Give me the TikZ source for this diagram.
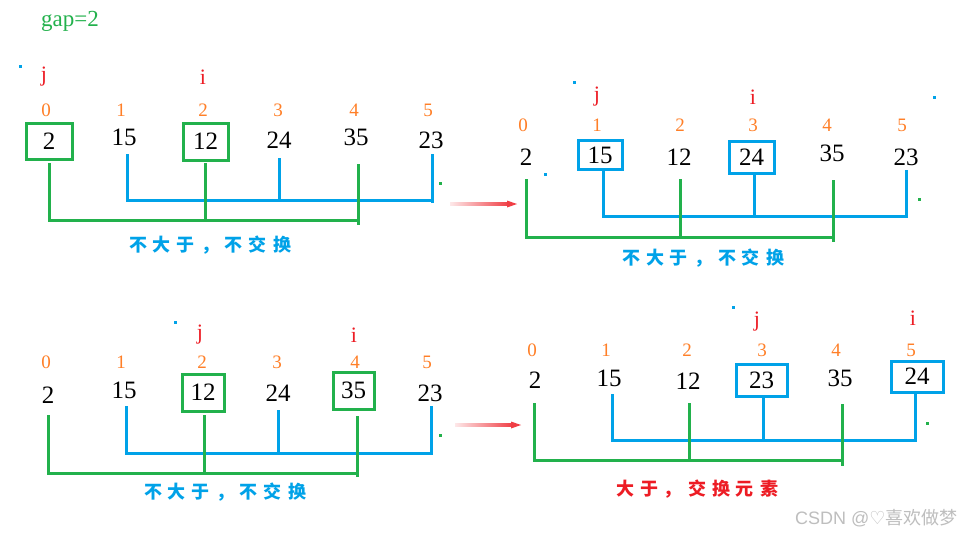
\documentclass[tikz,border=0pt]{standalone}
\usepackage{fontspec}
\setmainfont{Liberation Serif}
\newfontfamily\cjk{Noto Sans CJK SC}
\newfontfamily\dvs{DejaVu Sans}
\newfontfamily\wmfont{Liberation Sans}
\usetikzlibrary{arrows.meta}
\definecolor{pblue}{RGB}{0,162,232}
\definecolor{pgreen}{RGB}{34,177,76}
\definecolor{pred}{RGB}{237,28,36}
\definecolor{porange}{RGB}{255,127,39}
\definecolor{wgray}{RGB}{190,190,190}
\newcommand\csp{\hspace{6pt}}
\begin{document}
\begin{tikzpicture}[x=1pt,y=-1pt,
  num/.style={font=\fontsize{25}{25}\selectfont, inner sep=0pt},
  idx/.style={font=\fontsize{19}{19}\selectfont, text=porange, inner sep=0pt},
  ptr/.style={font=\fontsize{22}{22}\selectfont, text=pred, inner sep=0pt},
  gbox/.style={draw=pgreen, line width=3pt},
  bbox/.style={draw=pblue, line width=3pt},
  gl/.style={draw=pgreen, line width=3pt},
  bl/.style={draw=pblue, line width=3pt},
  captext/.style={font=\cjk\bfseries\fontsize{18}{18}\selectfont, inner sep=0pt},
  dotb/.style={fill=pblue},
  dotg/.style={fill=pgreen}]
\useasboundingbox (0,0) rectangle (966,536);
\fill[white] (0,0) rectangle (966,536);

% title
\node[font=\fontsize{23}{23}\selectfont, text=pgreen, inner sep=0pt] (gap) at (70,21) {gap=2};

% ================= Panel TL =================
\node[ptr] (aj) at (44,77) {j};
\node[ptr] (ai) at (203,77) {i};
\foreach \k/\x in {0/46,1/121,2/203,3/278,4/354,5/428}
  \node[idx] (ai\k) at (\x,110) {\k};
\node[num, gbox, minimum width=46, minimum height=36] (av0) at (49,141) {2};
\node[num] (av1) at (124,137) {15};
\node[num, gbox, minimum width=45, minimum height=37] (av2) at (205.5,141.5) {12};
\node[num] (av3) at (279,140) {24};
\node[num] (av4) at (356,137) {35};
\node[num] (av5) at (431,140) {23};
\draw[bl] (127,154) -- (127,200) -- (432,200);
\draw[bl] (279,158) -- (279,202);
\draw[bl] (432,154) -- (432,203);
\draw[gl] (49,163) -- (49,220) -- (358,220);
\draw[gl] (205,163) -- (205,222);
\draw[gl] (358,164) -- (358,225);
\node[captext, text=pblue] (acap) at (210,245) {不\csp 大\csp 于\csp ，\csp 不\csp 交\csp 换};
\fill[dotb] (19,65) rectangle (22,68);
\fill[dotg] (439,182) rectangle (442,185);

% arrow TL -> TR
\shade[left color=pred!10, right color=pred!85] (450,202.8) rectangle (509,205.2);
\fill[pred!85] (517,204) -- (507,200.5) -- (507,207.5) -- cycle;

% ================= Panel TR =================
\node[ptr] (bj) at (597,97) {j};
\node[ptr] (bi) at (753,97) {i};
\foreach \k/\x in {0/523,1/597,2/680,3/753,4/827,5/902}
  \node[idx] (bi\k) at (\x,125) {\k};
\node[num] (bv0) at (526,157) {2};
\node[num, bbox, minimum width=44, minimum height=29] (bv1) at (600,155) {15};
\node[num] (bv2) at (679,157) {12};
\node[num, bbox, minimum width=45, minimum height=32] (bv3) at (751.5,157) {24};
\node[num] (bv4) at (832,153) {35};
\node[num] (bv5) at (906,157) {23};
\draw[bl] (603,170) -- (603,216) -- (906,216);
\draw[bl] (754,173) -- (754,218);
\draw[bl] (906,170) -- (906,218);
\draw[gl] (526,179) -- (526,237) -- (833,237);
\draw[gl] (680,179) -- (680,238);
\draw[gl] (833,180) -- (833,242);
\node[captext, text=pblue] (bcap) at (703,258) {不\csp 大\csp 于\csp ，\csp 不\csp 交\csp 换};
\fill[dotb] (573,81) rectangle (576,84);
\fill[dotb] (544,173) rectangle (546.5,175.5);
\fill[dotb] (933,96) rectangle (936,99);
\fill[dotg] (918,198) rectangle (920.5,200.5);

% ================= Panel BL =================
\node[ptr] (cj) at (200,335) {j};
\node[ptr] (ci) at (354,335) {i};
\foreach \k/\x in {0/46,1/121,2/202,3/277,4/355,5/427}
  \node[idx] (ci\k) at (\x,362) {\k};
\node[num] (cv0) at (48,395) {2};
\node[num] (cv1) at (124,390) {15};
\node[num, gbox, minimum width=42, minimum height=37] (cv2) at (203,392.5) {12};
\node[num] (cv3) at (278,393) {24};
\node[num, gbox, minimum width=41, minimum height=37] (cv4) at (353.5,390.5) {35};
\node[num] (cv5) at (430,393) {23};
\draw[bl] (126,406) -- (126,453) -- (431,453);
\draw[bl] (278,410) -- (278,455);
\draw[bl] (431,406) -- (431,455);
\draw[gl] (48,415) -- (48,473) -- (357,473);
\draw[gl] (204,415) -- (204,475);
\draw[gl] (357,416) -- (357,477);
\node[captext, text=pblue] (ccap) at (225,492) {不\csp 大\csp 于\csp ，\csp 不\csp 交\csp 换};
\fill[dotb] (174,321) rectangle (177,324);
\fill[dotg] (439,434) rectangle (441.5,436.5);

% arrow BL -> BR
\shade[left color=pred!10, right color=pred!85] (455,423.8) rectangle (513,426.2);
\fill[pred!85] (521,425) -- (511,421.5) -- (511,428.5) -- cycle;

% ================= Panel BR =================
\node[ptr] (dj) at (757,322) {j};
\node[ptr] (di) at (913,318) {i};
\foreach \k/\x in {0/532,1/606,2/687,3/762,4/836,5/911}
  \node[idx] (di\k) at (\x,350) {\k};
\node[num] (dv0) at (535,380) {2};
\node[num] (dv1) at (609,378) {15};
\node[num] (dv2) at (688,381) {12};
\node[num, bbox, minimum width=51, minimum height=32] (dv3) at (761.5,380) {23};
\node[num] (dv4) at (840,378) {35};
\node[num, bbox, minimum width=52, minimum height=31] (dv5) at (917,376.5) {24};
\draw[bl] (612,394) -- (612,440) -- (915,440);
\draw[bl] (763,396) -- (763,442);
\draw[bl] (915,393) -- (915,442);
\draw[gl] (534,403) -- (534,460) -- (842,460);
\draw[gl] (689,403) -- (689,462);
\draw[gl] (842,404) -- (842,466);
\node[captext, text=pred] (dcap) at (697,489) {大\csp 于\csp ，\csp 交\csp 换\csp 元\csp 素};
\fill[dotb] (732,306) rectangle (734.5,308.5);
\fill[dotg] (926,422) rectangle (928.5,424.5);

% watermark
\node[anchor=west, inner sep=0pt, text=wgray, font=\fontsize{18}{18}\selectfont] (wm) at (795,518)
  {\wmfont CSDN @\dvs ♡\cjk 喜欢做梦};
\end{tikzpicture}
\end{document}
